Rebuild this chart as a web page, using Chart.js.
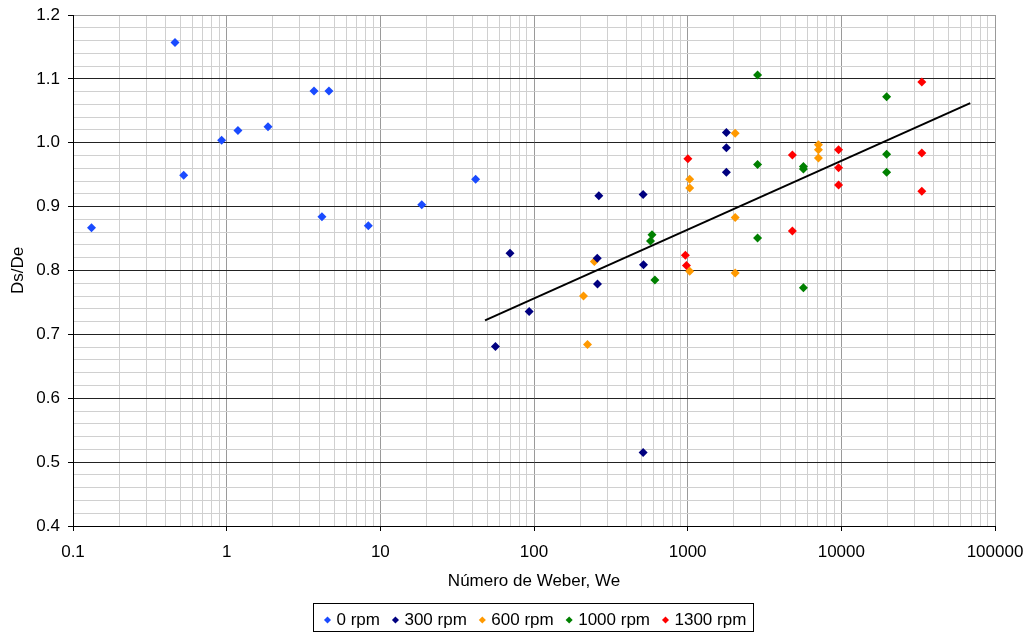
<!DOCTYPE html>
<html>
<head>
<meta charset="utf-8">
<script src="https://cdn.jsdelivr.net/npm/chart.js@4/dist/chart.umd.min.js"></script>
<style>
  html, body { margin: 0; padding: 0; background: #ffffff; overflow: hidden; }
  #wrap { width: 1025px; height: 632px; position: relative; }
</style>
</head>
<body>
<div id="wrap"><canvas id="chart"></canvas></div>
<script>
// Series labels and marker colours
const seriesNames = ['0 rpm', '300 rpm', '600 rpm', '1000 rpm', '1300 rpm'];
const seriesColors = ['#1a4bff', '#000080', '#ff9900', '#008000', '#ff0000'];

// Weber number (x) and Ds/De (y) per rotation speed
const we0   = [0.132, 0.461, 0.525, 0.927, 1.184, 1.857, 3.70, 4.63, 4.17, 8.35, 18.6, 41.7];
const ds0   = [0.867, 1.157, 0.949, 1.004, 1.019, 1.025, 1.081, 1.081, 0.884, 0.870, 0.903, 0.943];

const we300 = [1786, 1786, 1786, 264, 513, 69.8, 258, 516, 259, 93, 56.1, 513];
const ds300 = [1.016, 0.992, 0.954, 0.917, 0.919, 0.827, 0.819, 0.809, 0.779, 0.736, 0.681, 0.515];

const we600 = [2038, 7096, 7096, 7096, 1031, 1031, 2038, 247, 1031, 2038, 210, 223];
const ds600 = [1.015, 0.997, 0.989, 0.976, 0.943, 0.929, 0.883, 0.814, 0.799, 0.796, 0.760, 0.684];

const we1000 = [2850, 19720, 2850, 5665, 5665, 19720, 19720, 586, 573, 2850, 612, 5665];
const ds1000 = [1.106, 1.072, 0.966, 0.963, 0.959, 0.982, 0.954, 0.856, 0.846, 0.851, 0.785, 0.773];

const we1300 = [33400, 1003, 4803, 9593, 9593, 9593, 33400, 33400, 4803, 966, 982];
const ds1300 = [1.095, 0.975, 0.981, 0.989, 0.961, 0.934, 0.984, 0.924, 0.862, 0.824, 0.808];

// Logarithmic trend line end points
const trendWe = [48, 69000];
const trendDs = [0.722, 1.062];

// Axis ranges and labelled ticks
const xDecades = [0.1, 1, 10, 100, 1000, 10000, 100000];
const xTickLabels = ['0.1', '1', '10', '100', '1000', '10000', '100000'];
const yMajorTicks = [0.4, 0.5, 0.6, 0.7, 0.8, 0.9, 1.0, 1.1, 1.2];
const yMinorStep = 0.02;

const FONT = { family: '"Liberation Sans", Arial, sans-serif', size: 17 };

function pairs(xs, ys) { return xs.map((x, i) => ({ x: x, y: ys[i] })); }

const weSets = [we0, we300, we600, we1000, we1300];
const dsSets = [ds0, ds300, ds600, ds1000, ds1300];

const datasets = seriesNames.map((name, i) => ({
  label: name,
  data: pairs(weSets[i], dsSets[i]),
  pointStyle: 'rectRot',
  pointRadius: 4.5,
  pointHoverRadius: 4.5,
  borderWidth: 0,
  backgroundColor: seriesColors[i],
  borderColor: seriesColors[i]
}));
datasets.push({
  type: 'line',
  label: 'trend',
  data: pairs(trendWe, trendDs),
  borderColor: '#000000',
  borderWidth: 2,
  pointRadius: 0,
  fill: false
});

function isDecade(v) {
  const l = Math.log10(v);
  return Math.abs(l - Math.round(l)) < 1e-6;
}
function isYMajor(v) {
  return yMajorTicks.some(m => Math.abs(m - v) < 1e-6);
}

// Moves the legend row into place and frames it with a thin box
const LEGEND_X = 327.5;
const LEGEND_Y = 620;
const legendFrame = {
  id: 'legendFrame',
  afterLayout(chart) {
    const lg = chart.legend;
    if (!lg || !lg.lineWidths) return;
    const pad = lg.options.labels.padding;
    const bw = lg.options.labels.boxWidth;
    const cursorX = (lg.left + pad + lg.right - lg.lineWidths[0]) / 2;
    const dx = (LEGEND_X - bw / 2) - cursorX;
    const dy = (LEGEND_Y - pad - FONT.size / 2) - lg.top;
    lg.left += dx; lg.right += dx;
    lg.top += dy; lg.bottom += dy;
    const startX = LEGEND_X - bw / 2;
    lg._frame = {
      x0: LEGEND_X - 14.5,
      x1: startX + lg.lineWidths[0] - pad + 7,
      y0: LEGEND_Y - 17,
      y1: LEGEND_Y + 10.5
    };
  },
  afterDraw(chart) {
    const f = chart.legend && chart.legend._frame;
    if (!f) return;
    const ctx = chart.ctx;
    ctx.save();
    ctx.strokeStyle = '#000000';
    ctx.lineWidth = 1;
    ctx.strokeRect(Math.round(f.x0) + 0.5, Math.round(f.y0) + 0.5,
                   Math.round(f.x1 - f.x0), Math.round(f.y1 - f.y0));
    ctx.restore();
  }
};

new Chart(document.getElementById('chart'), {
  type: 'scatter',
  data: { datasets: datasets },
  plugins: [legendFrame],
  options: {
    responsive: true,
    maintainAspectRatio: false,
    animation: false,
    devicePixelRatio: 1,
    layout: { padding: { left: 0, right: 30, top: 15, bottom: 0 } },
    plugins: {
      tooltip: { enabled: false },
      legend: {
        display: true,
        position: 'bottom',
        align: 'center',
        labels: {
          usePointStyle: true,
          boxWidth: 1,
          boxHeight: 5,
          padding: 15,
          color: '#000000',
          font: FONT,
          filter: item => item.text !== 'trend'
        }
      }
    },
    scales: {
      x: {
        type: 'logarithmic',
        min: xDecades[0],
        max: xDecades[xDecades.length - 1],
        afterBuildTicks(scale) {
          const t = [];
          xDecades.forEach(d => {
            for (let m = 1; m <= 9; m++) {
              const v = +(d * m).toPrecision(6);
              if (v <= xDecades[xDecades.length - 1] * 1.0001) t.push({ value: v });
            }
          });
          scale.ticks = t;
        },
        afterFit(scale) {
          scale.height = 64;
          scale.paddingLeft = 0;
          scale.paddingRight = 0;
        },
        ticks: {
          autoSkip: false,
          maxRotation: 0,
          minRotation: 0,
          padding: 11,
          color: '#000000',
          font: FONT,
          callback(v) {
            const idx = xDecades.findIndex(d => Math.abs(d - v) / d < 1e-6);
            return idx >= 0 ? xTickLabels[idx] : '';
          }
        },
        grid: {
          lineWidth: 1,
          tickLength: 5,
          color: ctx => (ctx.tick && isDecade(ctx.tick.value)) ? '#9a9a9a' : '#d0d0d0',
          tickColor: ctx => (ctx.tick && isDecade(ctx.tick.value)) ? '#000000' : 'rgba(0,0,0,0)'
        },
        border: { color: '#000000', width: 1 },
        title: {
          display: true,
          text: 'Número de Weber, We',
          color: '#000000',
          font: Object.assign({}, FONT, { lineHeight: 1.0 }),
          padding: { top: 0, bottom: 0 }
        }
      },
      y: {
        type: 'linear',
        min: yMajorTicks[0],
        max: yMajorTicks[yMajorTicks.length - 1],
        afterBuildTicks(scale) {
          const t = [];
          const lo = yMajorTicks[0], hi = yMajorTicks[yMajorTicks.length - 1];
          const n = Math.round((hi - lo) / yMinorStep);
          for (let i = 0; i <= n; i++) t.push({ value: +(lo + i * yMinorStep).toFixed(4) });
          scale.ticks = t;
        },
        afterFit(scale) {
          scale.width = 73;
          scale.paddingTop = 0;
          scale.paddingBottom = 0;
        },
        ticks: {
          autoSkip: false,
          padding: 8,
          color: '#000000',
          font: FONT,
          callback(v) { return isYMajor(v) ? v.toFixed(1) : ''; }
        },
        grid: {
          lineWidth: 1,
          tickLength: 5,
          color: ctx => {
            if (!ctx.tick) return '#d0d0d0';
            const v = ctx.tick.value;
            if (Math.abs(v - yMajorTicks[yMajorTicks.length - 1]) < 1e-6) return '#9a9a9a';
            return isYMajor(v) ? '#222222' : '#d0d0d0';
          },
          tickColor: ctx => (ctx.tick && isYMajor(ctx.tick.value)) ? '#000000' : 'rgba(0,0,0,0)'
        },
        border: { color: '#000000', width: 1 },
        title: {
          display: true,
          text: 'Ds/De',
          color: '#000000',
          font: FONT,
          padding: { top: 8, bottom: 0 }
        }
      }
    }
  }
});
</script>
</body>
</html>
